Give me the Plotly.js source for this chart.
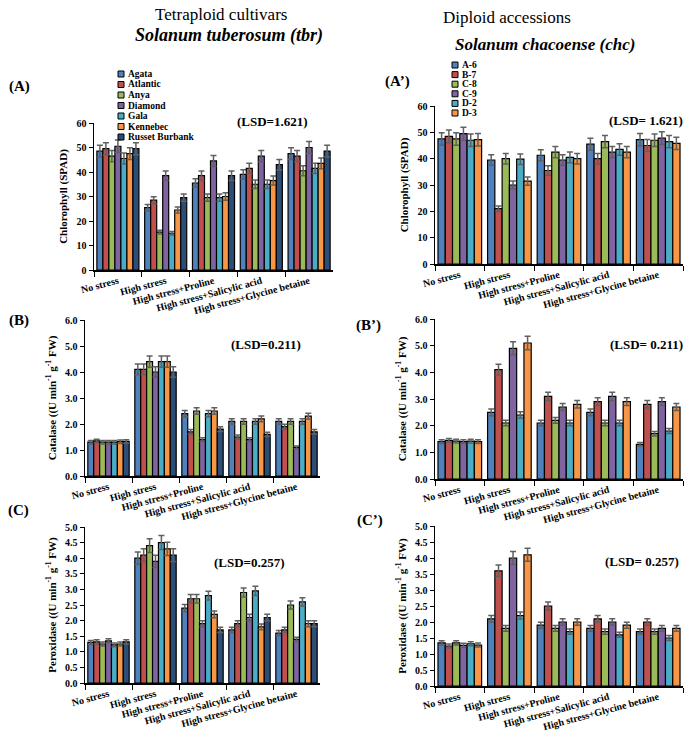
<!DOCTYPE html>
<html>
<head>
<meta charset="utf-8">
<script src="https://cdn.plot.ly/plotly-3.0.1.min.js"></script>
<style>
  body { margin: 0; background: #fff; }
  #chart { width: 685px; height: 731px; }
</style>
</head>
<body>
<div id="chart"></div>
<script>
// treatments on the x axis
const groups = ["No stress", "High stress", "High stress+Proline", "High stress+Salicylic acid", "High stress+Glycine betaine"];

// genotypes
const tbrNames = ["Agata", "Atlantic", "Anya", "Diamond", "Gala", "Kennebec", "Russet Burbank"];
const chcNames = ["A-6", "B-7", "C-8", "C-9", "D-2", "D-3"];

// one row per genotype, values across the 5 treatments
const chlTbr = [
    [48.5, 25.5, 35.5, 39.0, 47.5],
    [49.5, 28.5, 38.5, 41.5, 46.5],
    [46.5, 15.5, 29.5, 35.0, 40.5],
    [50.5, 38.5, 44.5, 46.5, 50.0],
    [45.5, 15.0, 29.5, 35.0, 41.5],
    [47.5, 24.5, 30.0, 36.5, 43.5],
    [49.5, 29.5, 38.5, 43.0, 48.5]
];
const chlChc = [
    [47.5, 39.5, 41.3, 45.5, 47.2],
    [48.5, 21.0, 35.5, 40.0, 45.0],
    [47.5, 40.0, 42.5, 46.5, 47.0],
    [49.5, 30.0, 39.5, 42.5, 47.8],
    [47.0, 39.8, 40.5, 43.5, 46.5],
    [47.2, 31.5, 40.0, 42.5, 45.8]
];
const catTbr = [
    [1.30, 4.1, 2.4, 2.1, 2.1],
    [1.35, 4.1, 1.7, 1.5, 1.9],
    [1.30, 4.4, 2.5, 2.1, 2.1],
    [1.30, 4.0, 1.4, 1.4, 1.1],
    [1.30, 4.4, 2.4, 2.1, 2.1],
    [1.32, 4.4, 2.5, 2.2, 2.3],
    [1.33, 4.0, 1.8, 1.6, 1.7]
];
const catChc = [
    [1.40, 2.5, 2.1, 2.5, 1.3],
    [1.45, 4.1, 3.1, 2.9, 2.8],
    [1.42, 2.1, 2.2, 2.1, 1.7],
    [1.40, 4.9, 2.7, 3.1, 2.9],
    [1.42, 2.4, 2.1, 2.1, 1.8],
    [1.40, 5.1, 2.8, 2.9, 2.7]
];
const perTbr = [
    [1.30, 4.0, 2.4, 1.7, 1.6],
    [1.32, 4.1, 2.7, 1.9, 1.7],
    [1.25, 4.4, 2.7, 2.9, 2.5],
    [1.35, 3.9, 1.9, 2.1, 1.4],
    [1.22, 4.5, 2.8, 2.95, 2.6],
    [1.25, 4.3, 2.2, 1.8, 1.9],
    [1.32, 4.1, 1.7, 2.1, 1.9]
];
const perChc = [
    [1.35, 2.1, 1.9, 1.8, 1.7],
    [1.25, 3.6, 2.5, 2.1, 2.0],
    [1.35, 1.8, 1.8, 1.7, 1.7],
    [1.27, 4.0, 2.0, 2.0, 1.8],
    [1.32, 2.2, 1.7, 1.6, 1.5],
    [1.28, 4.1, 2.0, 1.9, 1.8]
];

const colors = ["#4F81BD", "#C0504D", "#9BBB59", "#8064A2", "#4BACC6", "#F79646", "#2C4D75"];
const W = 685, H = 731;
const serif = "Liberation Serif, Times New Roman, serif";

// pixel boxes of each panel -> paper domains
function xd(a, b) { return [a / W, b / W]; }
function yd(top, bottom) { return [1 - bottom / H, 1 - top / H]; }

const traces = [];
function addPanel(n, data, names) {
    for (let i = 0; i < data.length; i++) {
        traces.push({
            type: "bar",
            x: groups,
            y: data[i],
            name: names[i],
            xaxis: "x" + n,
            yaxis: "y" + n,
            showlegend: false,
            marker: { color: colors[i], line: { color: "#000", width: 1.2 } },
            error_y: { type: "percent", value: 5, color: "#606060", thickness: 1.5, width: 3 }
        });
    }
}
addPanel(1, chlTbr, tbrNames);
addPanel(2, chlChc, chcNames);
addPanel(3, catTbr, tbrNames);
addPanel(4, catChc, chcNames);
addPanel(5, perTbr, tbrNames);
addPanel(6, perChc, chcNames);

const tickFont = { family: serif, size: 10, color: "#000", weight: "bold" };
const titleFont = { family: serif, size: 11, color: "#000", weight: "bold" };

function xAxis(dom, anchor) {
    return {
        domain: dom, anchor: anchor, type: "category",
        showline: true, linecolor: "#000", linewidth: 1.5,
        ticks: "outside", tickson: "boundaries", ticklen: 5, tickcolor: "#000",
        tickangle: -15, tickfont: tickFont, showgrid: false, fixedrange: true
    };
}
function yAxis(dom, anchor, range, dtick, fmt, title) {
    return {
        domain: dom, anchor: anchor, range: range, dtick: dtick, tickformat: fmt,
        showline: true, linecolor: "#000", linewidth: 1.5,
        ticks: "outside", ticklen: 4, tickcolor: "#000",
        tickfont: tickFont, showgrid: false, zeroline: false,
        title: { text: title, font: titleFont, standoff: 6 }
    };
}

const catTitle = "Catalase ((U min<sup>-1</sup> g<sup>-1</sup> FW)";
const perTitle = "Peroxidase ((U min<sup>-1</sup> g<sup>-1</sup> FW)";

const layout = {
    width: W, height: H,
    margin: { l: 0, r: 0, t: 0, b: 0 },
    paper_bgcolor: "#fff", plot_bgcolor: "rgba(0,0,0,0)",
    barmode: "group", bargap: 0.12, bargroupgap: 0,
    showlegend: false,
    xaxis: xAxis(xd(94, 333), "y"),
    yaxis: yAxis(yd(123, 270), "x", [0, 60], 10, "d", "Chlorophyll (SPAD)"),
    xaxis2: xAxis(xd(435, 683), "y2"),
    yaxis2: yAxis(yd(106, 264), "x2", [0, 60], 10, "d", "Chlorophyll (SPAD)"),
    xaxis3: xAxis(xd(85, 320), "y3"),
    yaxis3: yAxis(yd(320, 476), "x3", [0, 6], 1, ".1f", catTitle),
    xaxis4: xAxis(xd(435, 683), "y4"),
    yaxis4: yAxis(yd(319, 479), "x4", [0, 6], 1, ".1f", catTitle),
    xaxis5: xAxis(xd(85, 320), "y5"),
    yaxis5: yAxis(yd(527, 683), "x5", [0, 5], 0.5, ".1f", perTitle),
    xaxis6: xAxis(xd(435, 683), "y6"),
    yaxis6: yAxis(yd(526, 686), "x6", [0, 5], 0.5, ".1f", perTitle),
    annotations: [],
    shapes: []
};

function note(text, x, y, size, extra) {
    layout.annotations.push(Object.assign({
        text: text, x: x / W, y: 1 - y / H, xref: "paper", yref: "paper",
        showarrow: false, xanchor: "center", yanchor: "middle",
        font: { family: serif, size: size, color: "#000" }
    }, extra || {}));
}

// compact legends (plotly's own legend rows are too tall for this figure)
function legendBox(names, left, top, step) {
    for (let i = 0; i < names.length; i++) {
        const cy = top + i * step;
        layout.shapes.push({
            type: "rect", xref: "paper", yref: "paper",
            x0: left / W, x1: (left + 6) / W,
            y0: 1 - (cy + 3) / H, y1: 1 - (cy - 3) / H,
            fillcolor: colors[i], line: { color: "#000", width: 1 }
        });
        note("<b>" + names[i] + "</b>", left + 8, cy, 9.5, { xanchor: "left" });
    }
}
legendBox(tbrNames, 118, 74, 10.5);
legendBox(chcNames, 452, 65, 9.6);

// headings
note("Tetraploid cultivars", 221, 14, 17);
note("<b><i>Solanum tuberosum (tbr)</i></b>", 229, 35, 18);
note("Diploid accessions", 507, 17, 17);
note("<b><i>Solanum chacoense (chc)</i></b>", 545, 45, 17);
// panel letters
note("<b>(A)</b>", 19, 87, 15);
note("<b>(A’)</b>", 397, 82, 15);
note("<b>(B)</b>", 19, 320, 15);
note("<b>(B’)</b>", 368, 325, 15);
note("<b>(C)</b>", 18, 510, 15);
note("<b>(C’)</b>", 370, 520, 15);
// LSD
note("<b>(LSD=1.621)</b>", 272, 122, 13);
note("<b>(LSD= 1.621)</b>", 646, 120, 13);
note("<b>(LSD=0.211)</b>", 266, 345, 13);
note("<b>(LSD= 0.211)</b>", 646, 345, 13);
note("<b>(LSD=0.257)</b>", 249, 562, 13);
note("<b>(LSD= 0.257)</b>", 642, 561, 13);

Plotly.newPlot("chart", traces, layout, { displayModeBar: false, staticPlot: true });
</script>
</body>
</html>
